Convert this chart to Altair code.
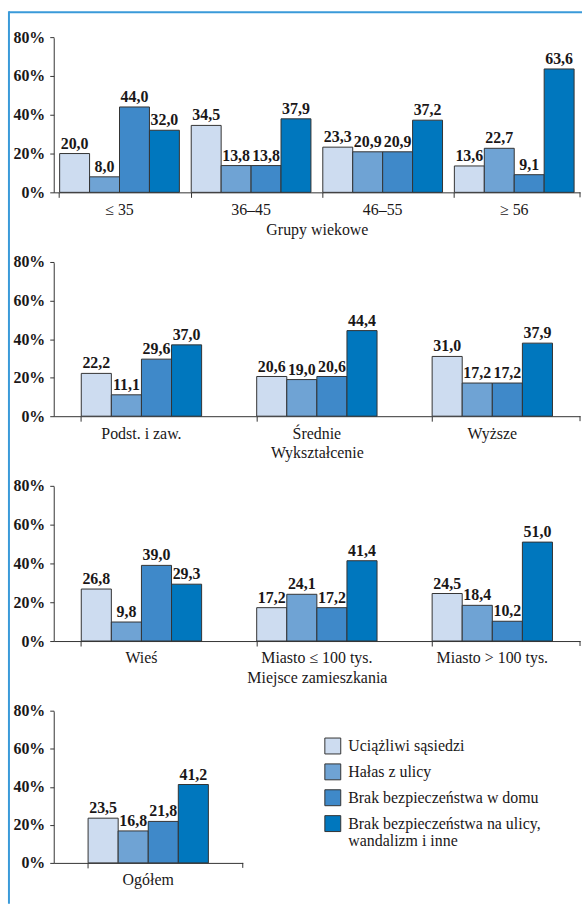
import altair as alt
import pandas as pd

SERIES = [
    "Uciążliwi sąsiedzi",
    "Hałas z ulicy",
    "Brak bezpieczeństwa w domu",
    "Brak bezpieczeństwa na ulicy, wandalizm i inne",
]
COLORS = ["#cddcf0", "#6fa3d4", "#3f89c9", "#0077be"]

# Panel 1: age groups
age_groups = ["≤ 35", "36–45", "46–55", "≥ 56"]
age_s1 = [20.0, 34.5, 23.3, 13.6]
age_s2 = [8.0, 13.8, 20.9, 22.7]
age_s3 = [44.0, 13.8, 20.9, 9.1]
age_s4 = [32.0, 37.9, 37.2, 63.6]

# Panel 2: education
edu_groups = ["Podst. i zaw.", "Średnie", "Wyższe"]
edu_s1 = [22.2, 20.6, 31.0]
edu_s2 = [11.1, 19.0, 17.2]
edu_s3 = [29.6, 20.6, 17.2]
edu_s4 = [37.0, 44.4, 37.9]

# Panel 3: place of residence
place_groups = ["Wieś", "Miasto ≤ 100 tys.", "Miasto > 100 tys."]
place_s1 = [26.8, 17.2, 24.5]
place_s2 = [9.8, 24.1, 18.4]
place_s3 = [39.0, 17.2, 10.2]
place_s4 = [29.3, 41.4, 51.0]

# Panel 4: total
total_groups = ["Ogółem"]
total_s1 = [23.5]
total_s2 = [16.8]
total_s3 = [21.8]
total_s4 = [41.2]

Y_TICKS = [0, 20, 40, 60, 80]

FONT = "Liberation Serif"
TXT = "#1a1718"
LINE = "#333333"
BORDER = "#3a9ad9"

LEGEND = alt.Legend(
    title=None, orient="none", legendX=272, legendY=704,
    symbolType="square", symbolSize=256, symbolStrokeColor=LINE,
    symbolStrokeWidth=1, symbolOpacity=1, labelFont=FONT,
    labelFontSize=16, labelColor=TXT, labelLimit=320,
    labelOffset=7, rowPadding=5, padding=0,
    labelExpr="datum.label == 'Brak bezpieczeństwa na ulicy, wandalizm i inne' ? ['Brak bezpieczeństwa na ulicy,', 'wandalizm i inne'] : datum.label",
)


def frame(cats, cols):
    rows = []
    for si, s in enumerate(SERIES):
        for ci, c in enumerate(cats):
            rows.append({"cat": c, "series": s, "value": cols[si][ci]})
    return pd.DataFrame(rows)


def panel(cats, cols, title, width, height, p_in, p_out, border=False):
    df = frame(cats, cols)
    xaxis = dict(
        labelAngle=0, bandPosition=0, tickSize=5, labelPadding=4,
        labelFontSize=16, labelFont=FONT, labelColor=TXT,
        titleFontSize=16, titleFont=FONT, titleColor=TXT, titleFontWeight="normal",
        titlePadding=4, domainColor=LINE, tickColor=LINE, grid=False,
    )
    xaxis["title"] = title if title else None
    color = alt.Color(
        "series:N", scale=alt.Scale(domain=SERIES, range=COLORS), legend=LEGEND
    )
    base = alt.Chart(df).encode(
        x=alt.X(
            "cat:N", sort=cats,
            scale=alt.Scale(paddingInner=p_in, paddingOuter=p_out),
            axis=alt.Axis(**xaxis),
        ),
        xOffset=alt.XOffset(
            "series:N", sort=SERIES, scale=alt.Scale(paddingInner=0, paddingOuter=0)
        ),
        y=alt.Y(
            "value:Q",
            scale=alt.Scale(domain=[0, 80], nice=False),
            axis=alt.Axis(
                title=None, values=Y_TICKS, labelExpr="datum.value + '%'",
                tickSize=4, labelPadding=5, labelFont=FONT, labelFontSize=16,
                labelFontWeight="bold", labelColor=TXT, domainColor=LINE,
                tickColor=LINE, grid=False,
            ),
        ),
    )
    one = pd.DataFrame({"k": [0]})
    # white cover for any cell outline along the top and right edges
    cover_top = alt.Chart(one).mark_rule(color="white", strokeWidth=3).encode(
        x=alt.value(1), x2=alt.value(width + 2), y=alt.value(0)
    )
    cover_right = alt.Chart(one).mark_rule(color="white", strokeWidth=3).encode(
        x=alt.value(width), y=alt.value(-2), y2=alt.value(height - 1)
    )
    bars = base.mark_bar(stroke=LINE, strokeWidth=1).encode(color=color)
    labels = base.transform_calculate(
        label="replace(format(datum.value, '.1f'), '.', ',')"
    ).mark_text(
        baseline="bottom", dy=-2, font=FONT, fontSize=16, fontWeight="bold", color=TXT
    ).encode(text="label:N")
    end_tick = alt.Chart(one).mark_rule(color=LINE, strokeWidth=1).encode(
        x=alt.value(width), y=alt.value(height), y2=alt.value(height + 5)
    )
    layers = [cover_top, cover_right, bars, labels, end_tick]
    if border:
        top_line = alt.Chart(one).mark_rule(color=BORDER, strokeWidth=2).encode(
            x=alt.value(-45), x2=alt.value(531), y=alt.value(-25)
        )
        left_line = alt.Chart(one).mark_rule(color=BORDER, strokeWidth=2).encode(
            x=alt.value(-45), y=alt.value(-26), y2=alt.value(871)
        )
        layers += [top_line, left_line]
    return alt.layer(*layers).properties(width=width, height=height)


p1 = panel(age_groups, [age_s1, age_s2, age_s3, age_s4], "Grupy wiekowe",
           529, 156, 0.09, 0.045, border=True)
p2 = panel(edu_groups, [edu_s1, edu_s2, edu_s3, edu_s4], "Wykształcenie",
           529, 155, 0.314, 0.157)
p3 = panel(place_groups, [place_s1, place_s2, place_s3, place_s4], "Miejsce zamieszkania",
           529, 156, 0.314, 0.157)
p4 = panel(total_groups, [total_s1, total_s2, total_s3, total_s4], None,
           190, 153, 0.3, 0.2)

chart = alt.vconcat(p1, p2, p3, p4, spacing=70, bounds="flush").resolve_scale(
    xOffset="independent"
).properties(
    padding={"left": 7, "top": 7, "right": 0, "bottom": 0}
).configure_view(stroke=None).configure(
    background="white", style={"cell": {"stroke": "transparent"}}
)

chart.save("out.html", embed_options={"renderer": "svg", "actions": False})
